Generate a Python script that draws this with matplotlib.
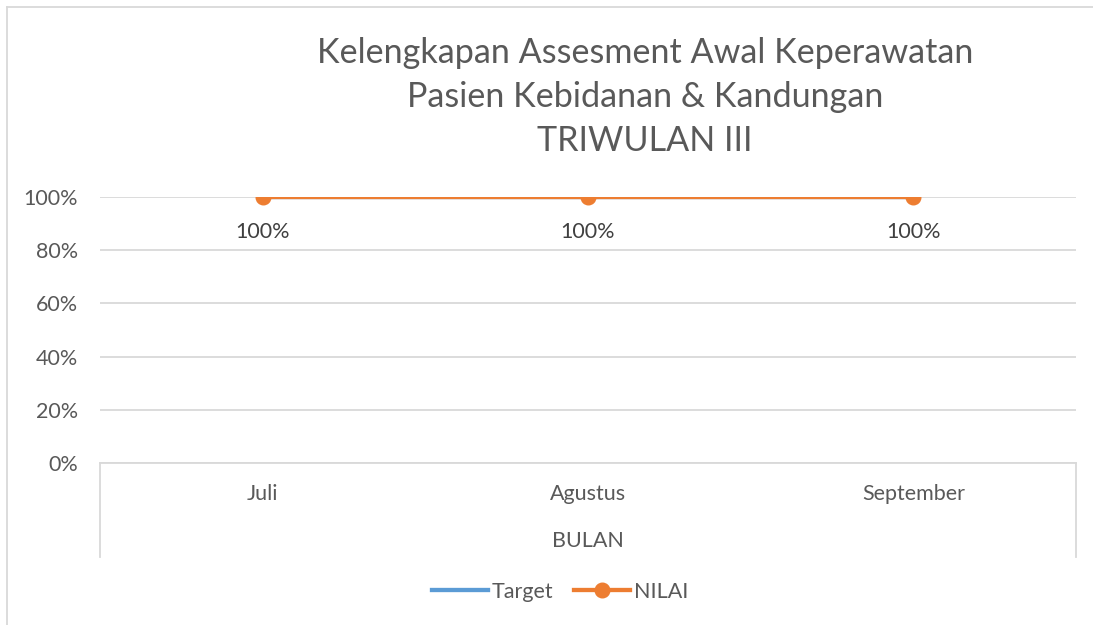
import matplotlib
matplotlib.use("Agg")
import matplotlib.pyplot as plt
from matplotlib.lines import Line2D

categories = ["Juli", "Agustus", "September"]
target = [1.0, 1.0, 1.0]
nilai = [1.0, 1.0, 1.0]
yticks = [0, 0.2, 0.4, 0.6, 0.8, 1.0]
ytick_labels = ["0%", "20%", "40%", "60%", "80%", "100%"]
title_lines = ["Kelengkapan Assesment Awal Keperawatan",
               "Pasien Kebidanan & Kandungan",
               "TRIWULAN III"]
group_label = "BULAN"

FONT = "Lato"
TXT = "#595959"
GRID = "#d9d9d9"
ORANGE = "#ED7D31"
BLUE = "#5B9BD5"
FS = 15.5

W, H = 1093, 625
fig = plt.figure(figsize=(W / 100, H / 100), dpi=100)
plt.rcParams['font.family'] = [FONT, 'DejaVu Sans']

ax = fig.add_axes([100 / W, 1 - 463 / H, 976 / W, 266 / H])
x = list(range(len(categories)))
ax.plot(x, target, color=BLUE, lw=3.1, zorder=3)
ax.plot(x, nilai, color=ORANGE, lw=3.1, marker="o", markersize=10.5, zorder=4)
for xi, v in zip(x, nilai):
    ax.annotate(f"{v:.0%}", (xi, v), xytext=(0, -35), textcoords="offset pixels",
                ha="center", va="center", fontsize=FS, color="#404040", family=FONT)

ax.set_xlim(-0.5, len(categories) - 0.5)
ax.set_ylim(0, 1)
ax.set_yticks(yticks)
ax.set_yticklabels(ytick_labels, fontsize=FS, color=TXT, family=FONT)
ax.set_xticks(x)
ax.set_xticklabels(categories, fontsize=FS, color=TXT, family=FONT)
ax.tick_params(axis="both", length=0)
ax.tick_params(axis="y", pad=16)
ax.tick_params(axis="x", pad=15)
ax.grid(axis="y", color=GRID, lw=1.3)
ax.set_axisbelow(True)
for s in ["top", "right", "left"]:
    ax.spines[s].set_visible(False)
ax.spines["bottom"].set_color(GRID)
ax.spines["bottom"].set_linewidth(1.3)

# multi-level category separators
tr = ax.get_xaxis_transform()
for xv in [-0.5, len(categories) - 0.5]:
    ax.plot([xv, xv], [0, -94 / 266], transform=tr, color=GRID, lw=1.3, clip_on=False)
ax.text(0.5, -78 / 266, group_label, transform=ax.transAxes, ha="center", va="center",
        fontsize=FS, color=TXT, family=FONT)

# title
for i, line in enumerate(title_lines):
    fig.text(645 / W, 1 - (53 + 44 * i) / H, line, ha="center", va="center",
             fontsize=24.6, color=TXT, family=FONT)

# legend
handles = [Line2D([], [], color=BLUE, lw=3.1),
           Line2D([], [], color=ORANGE, lw=3.1, marker="o", markersize=10.5)]
fig.legend(handles, ["Target", "NILAI"], loc="center", bbox_to_anchor=(560 / W, 1 - 592 / H),
           ncol=2, frameon=False, prop={"family": FONT, "size": FS}, labelcolor=TXT,
           handlelength=2.6, handletextpad=0.15, columnspacing=1.0)

# chart frame
fig.add_artist(Line2D([6.5 / W, 6.5 / W], [0, 1 - 7 / H], color=GRID, lw=1.3))
fig.add_artist(Line2D([6.5 / W, 1], [1 - 7 / H, 1 - 7 / H], color=GRID, lw=1.3))

fig.savefig("out.png", dpi=100, facecolor="white")
